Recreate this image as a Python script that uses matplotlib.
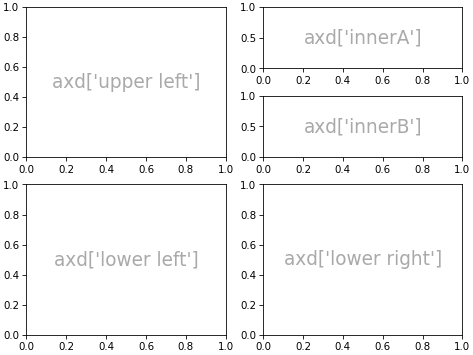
import matplotlib
matplotlib.use('Agg')
import matplotlib.pyplot as plt

# mosaic layout labels
inner = [
    ['innerA'],
    ['innerB'],
]
outer = [
    ['upper left', inner],
    ['lower left', 'lower right'],
]

fig, axd = plt.subplot_mosaic(outer, layout='constrained', figsize=(6.4, 4.8), dpi=74)
for k, ax in axd.items():
    ax.text(0.5, 0.5, f'axd[{k!r}]', transform=ax.transAxes,
            ha='center', va='center', fontsize=18, color='darkgrey')

fig.savefig('out.png')
